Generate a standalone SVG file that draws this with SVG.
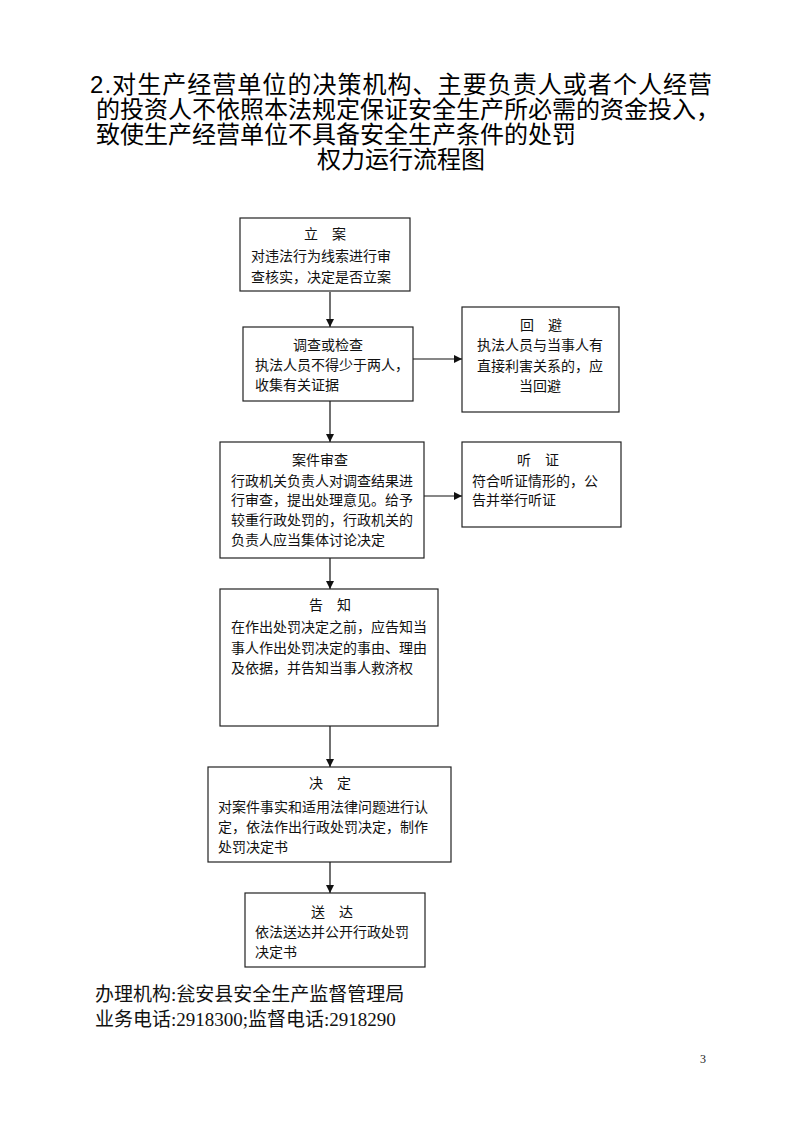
<svg xmlns="http://www.w3.org/2000/svg" width="800" height="1132" viewBox="0 0 800 1132">
<style>
.bg{fill:#fff}
.box{fill:#fff;stroke:#222;stroke-width:1.2}
.t{font-family:"Liberation Serif","Noto Sans CJK SC",serif;font-size:14px;fill:#111}
.c{text-anchor:middle}
.title{font-family:"Liberation Sans","Noto Sans CJK SC",sans-serif;font-size:24px;fill:#000}
.foot{font-family:"Liberation Serif","Noto Sans CJK SC",serif;font-size:19px;fill:#111}
.edge{stroke:#111;stroke-width:1.2;fill:none}
</style>
<defs>
<marker id="arr" markerWidth="9" markerHeight="8" refX="8" refY="4" orient="auto" markerUnits="userSpaceOnUse">
<path d="M0,0 L8,4 L0,8 z" fill="#111"/>
</marker>
</defs>
<rect class="bg" x="0" y="0" width="800" height="1132"/>
<g id="title">
<text class="title" x="90" y="93" textLength="622" lengthAdjust="spacing">2.对生产经营单位的决策机构、主要负责人或者个人经营</text>
<text class="title" x="96" y="118">的投资人不依照本法规定保证安全生产所必需的资金投入，</text>
<text class="title" x="96" y="143">致使生产经营单位不具备安全生产条件的处罚</text>
<text class="title" x="401" y="168" text-anchor="middle">权力运行流程图</text>
</g>
<g id="connectors">
<line class="edge" x1="330" y1="292" x2="330" y2="327" marker-end="url(#arr)"/>
<line class="edge" x1="330" y1="401" x2="330" y2="442" marker-end="url(#arr)"/>
<line class="edge" x1="330" y1="558" x2="330" y2="589" marker-end="url(#arr)"/>
<line class="edge" x1="330" y1="726" x2="330" y2="767" marker-end="url(#arr)"/>
<line class="edge" x1="330" y1="862" x2="330" y2="893" marker-end="url(#arr)"/>
<line class="edge" x1="413" y1="359" x2="462" y2="359" marker-end="url(#arr)"/>
<line class="edge" x1="424" y1="496" x2="462" y2="496" marker-end="url(#arr)"/>
</g>
<g id="node-lian">
<rect class="box" x="240" y="218" width="170" height="73"/>
<text class="t c" x="325" y="239">立　案</text>
<text class="t" x="251" y="261">对违法行为线索进行审</text>
<text class="t" x="251" y="282">查核实，决定是否立案</text>
</g>
<g id="node-diaocha">
<rect class="box" x="243" y="327" width="170" height="74"/>
<text class="t c" x="328" y="350">调查或检查</text>
<text class="t" x="255" y="370">执法人员不得少于两人，</text>
<text class="t" x="255" y="390">收集有关证据</text>
</g>
<g id="node-huibi">
<rect class="box" x="462" y="307" width="157" height="105"/>
<text class="t c" x="541" y="330">回　避</text>
<text class="t c" x="540" y="350">执法人员与当事人有</text>
<text class="t c" x="540" y="371">直接利害关系的，应</text>
<text class="t c" x="540" y="391">当回避</text>
</g>
<g id="node-shencha">
<rect class="box" x="220" y="442" width="204" height="116"/>
<text class="t c" x="320" y="465">案件审查</text>
<text class="t" x="231" y="486">行政机关负责人对调查结果进</text>
<text class="t" x="231" y="505">行审查，提出处理意见。给予</text>
<text class="t" x="231" y="525">较重行政处罚的，行政机关的</text>
<text class="t" x="231" y="545">负责人应当集体讨论决定</text>
</g>
<g id="node-tingzheng">
<rect class="box" x="462" y="442" width="159" height="85"/>
<text class="t c" x="538" y="465">听　证</text>
<text class="t" x="472" y="486">符合听证情形的，公</text>
<text class="t" x="472" y="505">告并举行听证</text>
</g>
<g id="node-gaozhi">
<rect class="box" x="220" y="589" width="218" height="137"/>
<text class="t c" x="330" y="610">告　知</text>
<text class="t" x="231" y="632">在作出处罚决定之前，应告知当</text>
<text class="t" x="231" y="653">事人作出处罚决定的事由、理由</text>
<text class="t" x="231" y="673">及依据，并告知当事人救济权</text>
</g>
<g id="node-jueding">
<rect class="box" x="208" y="767" width="243" height="95"/>
<text class="t c" x="330" y="788">决　定</text>
<text class="t" x="218" y="812">对案件事实和适用法律问题进行认</text>
<text class="t" x="218" y="832">定，依法作出行政处罚决定，制作</text>
<text class="t" x="218" y="852">处罚决定书</text>
</g>
<g id="node-songda">
<rect class="box" x="245" y="893" width="180" height="74"/>
<text class="t c" x="332" y="917">送　达</text>
<text class="t" x="255" y="937">依法送达并公开行政处罚</text>
<text class="t" x="255" y="957">决定书</text>
</g>
<g id="footer">
<text class="foot" x="95" y="1001">办理机构:瓮安县安全生产监督管理局</text>
<text class="foot" x="95" y="1026">业务电话:2918300;监督电话:2918290</text>
<text x="700" y="1063" font-family="Liberation Serif" font-size="12" fill="#222">3</text>
</g>
</svg>
